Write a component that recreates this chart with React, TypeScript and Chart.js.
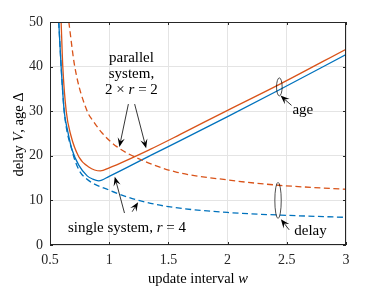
import { useEffect, useRef } from "react";
import { Chart, registerables } from "chart.js";

Chart.register(...registerables);

// ---- data ----
const xTickValues = [0.5, 1, 1.5, 2, 2.5, 3];
const yTickValues = [0, 10, 20, 30, 40, 50];

// age, single system r = 4 (blue solid)
const wAgeSingle = [0.574, 0.594, 0.62, 0.65, 0.687, 0.743, 0.814, 0.86, 0.912, 1.0, 1.35, 1.6, 2.0, 2.43, 3.0];
const ageSingle = [50, 40, 30, 25.5, 21.3, 17.9, 15.5, 14.8, 14.4, 15.4, 20.1, 23.4, 28.8, 34.7, 42.7];

// age, parallel system 2 x r = 2 (orange solid)
const wAgeParallel = [0.594, 0.608, 0.637, 0.676, 0.743, 0.827, 0.926, 1.0, 1.35, 1.6, 2.0, 2.43, 3.0];
const ageParallel = [50, 40, 30, 24.6, 19.8, 17.5, 16.6, 17.3, 21.5, 24.8, 30.2, 35.9, 43.9];

// delay, single system (blue dashed)
const wDelaySingle = [0.574, 0.594, 0.62, 0.687, 0.743, 0.8, 1.0, 1.25, 1.5, 2.0, 2.45, 3.0];
const delaySingle = [50, 40, 30, 21.1, 16.9, 15.0, 12.3, 10.0, 8.6, 7.3, 6.7, 6.2];

// delay, parallel system (orange dashed)
const wDelayParallel = [0.659, 0.709, 0.814, 0.87, 0.94, 1.067, 1.306, 1.559, 1.995, 2.431, 3.0];
const delayParallel = [50, 40, 30, 27.6, 25.1, 22.0, 18.7, 16.4, 14.6, 13.4, 12.5];

const BLUE = "#0072BD";
const ORANGE = "#D95319";
const AXIS = "#262626";
const GRID = "#e4e4e4";
const FONT = "'Liberation Serif', 'DejaVu Serif', serif";
const FS_TICK = 14;
const FS_NOTE = 15;
const FS_TITLE = 14.5;

type Seg = { t: string; i?: boolean };

function pts(xs: number[], ys: number[]) {
  return xs.map((x, k) => ({ x, y: ys[k] }));
}

function font(italic: boolean, size: number) {
  return `${italic ? "italic " : ""}${size}px ${FONT}`;
}

function drawRich(ctx: CanvasRenderingContext2D, segs: Seg[], x: number, y: number, size: number) {
  let total = 0;
  for (const s of segs) {
    ctx.font = font(!!s.i, size);
    total += ctx.measureText(s.t).width;
  }
  let cx = x - total / 2;
  ctx.textAlign = "left";
  ctx.textBaseline = "middle";
  for (const s of segs) {
    ctx.font = font(!!s.i, size);
    ctx.fillText(s.t, cx, y);
    cx += ctx.measureText(s.t).width;
  }
}

function arrow(ctx: CanvasRenderingContext2D, x0: number, y0: number, x1: number, y1: number) {
  const ang = Math.atan2(y1 - y0, x1 - x0);
  const L = 9;
  const W = 3.6;
  ctx.save();
  ctx.strokeStyle = "#000";
  ctx.fillStyle = "#000";
  ctx.lineWidth = 0.8;
  ctx.beginPath();
  ctx.moveTo(x0, y0);
  ctx.lineTo(x1 - Math.cos(ang) * 4, y1 - Math.sin(ang) * 4);
  ctx.stroke();
  ctx.translate(x1, y1);
  ctx.rotate(ang);
  ctx.beginPath();
  ctx.moveTo(0, 0);
  ctx.lineTo(-L, -W);
  ctx.lineTo(-L * 0.6, 0);
  ctx.lineTo(-L, W);
  ctx.closePath();
  ctx.fill();
  ctx.restore();
}

const decorPlugin = {
  id: "decor",
  beforeDatasetsDraw(chart: any) {
    const { ctx, chartArea: a } = chart;
    ctx.save();
    ctx.strokeStyle = AXIS;
    ctx.lineWidth = 1;
    const xs = chart.scales.x;
    const ys = chart.scales.y;
    ctx.beginPath();
    for (const v of xTickValues) {
      const px = Math.round(xs.getPixelForValue(v)) + 0.5;
      ctx.moveTo(px, a.bottom);
      ctx.lineTo(px, a.bottom - 3);
      ctx.moveTo(px, a.top);
      ctx.lineTo(px, a.top + 3);
    }
    for (const v of yTickValues) {
      const py = Math.round(ys.getPixelForValue(v)) + 0.5;
      ctx.moveTo(a.left, py);
      ctx.lineTo(a.left + 3, py);
      ctx.moveTo(a.right, py);
      ctx.lineTo(a.right - 3, py);
    }
    ctx.stroke();
    ctx.restore();
  },
  afterDatasetsDraw(chart: any) {
    const { ctx, chartArea: a } = chart;
    const xs = chart.scales.x;
    const ys = chart.scales.y;
    const X = (v: number) => xs.getPixelForValue(v);
    const Y = (v: number) => ys.getPixelForValue(v);
    ctx.save();
    // box
    ctx.strokeStyle = AXIS;
    ctx.lineWidth = 1;
    ctx.strokeRect(Math.round(a.left) + 0.5, Math.round(a.top) + 0.5, Math.round(a.right - a.left) - 1, Math.round(a.bottom - a.top) - 1);

    ctx.fillStyle = "#000";
    // parallel label
    drawRich(ctx, [{ t: "parallel" }], X(1.188), Y(41.9), FS_NOTE);
    drawRich(ctx, [{ t: "system," }], X(1.188), Y(38.3), FS_NOTE);
    drawRich(ctx, [{ t: "2 × " }, { t: "r", i: true }, { t: " = 2" }], X(1.188), Y(34.7), FS_NOTE);
    arrow(ctx, X(1.162), Y(31.6), X(1.086), Y(22.0));
    arrow(ctx, X(1.215), Y(31.6), X(1.312), Y(21.7));

    // single label
    drawRich(ctx, [{ t: "single system, " }, { t: "r", i: true }, { t: " = 4" }], X(1.15), Y(3.8), FS_NOTE);
    arrow(ctx, X(1.129), Y(7.17), X(1.047), Y(15.3));
    arrow(ctx, X(1.194), Y(7.46), X(1.244), Y(9.6));

    // age ellipse
    ctx.strokeStyle = "#000";
    ctx.lineWidth = 0.7;
    ctx.beginPath();
    ctx.ellipse(X(2.437), Y(35.45), 2.8, 9, 0, 0, Math.PI * 2);
    ctx.stroke();
    arrow(ctx, X(2.54), Y(31.3), X(2.447), Y(33.5));
    drawRich(ctx, [{ t: "age" }], X(2.635), Y(30.2), FS_NOTE);

    // delay ellipse
    ctx.beginPath();
    ctx.ellipse(X(2.426), Y(10.0), 3.2, 18, 0, 0, Math.PI * 2);
    ctx.stroke();
    arrow(ctx, X(2.52), Y(3.4), X(2.45), Y(5.8));
    drawRich(ctx, [{ t: "delay" }], X(2.70), Y(3.2), FS_NOTE);

    // axis titles
    drawRich(ctx, [{ t: "update interval " }, { t: "w", i: true }], (a.left + a.right) / 2, 279, FS_TITLE);
    ctx.save();
    ctx.translate(19, (a.top + a.bottom) / 2 + 1);
    ctx.rotate(-Math.PI / 2);
    drawRich(ctx, [{ t: "delay " }, { t: "V", i: true }, { t: ", age Δ" }], 0, 0, FS_TITLE);
    ctx.restore();
    ctx.restore();
  },
};

export default function App() {
  const ref = useRef<HTMLCanvasElement | null>(null);
  useEffect(() => {
    if (!ref.current) return;
    const line = (data: { x: number; y: number }[], color: string, dashed: boolean) => ({
      data,
      borderColor: color,
      backgroundColor: color,
      borderWidth: 1.3,
      borderDash: dashed ? [6, 3.5] : [],
      pointRadius: 0,
      cubicInterpolationMode: "monotone" as const,
      fill: false,
    });
    const chart = new Chart(ref.current, {
      type: "line",
      data: {
        datasets: [
          line(pts(wDelaySingle, delaySingle), BLUE, true),
          line(pts(wDelayParallel, delayParallel), ORANGE, true),
          line(pts(wAgeSingle, ageSingle), BLUE, false),
          line(pts(wAgeParallel, ageParallel), ORANGE, false),
        ],
      },
      options: {
        animation: false,
        responsive: true,
        maintainAspectRatio: false,
        layout: { padding: { left: 0, top: 22, right: 36, bottom: 0 } },
        plugins: { legend: { display: false }, tooltip: { enabled: false } },
        scales: {
          x: {
            type: "linear",
            min: 0.5,
            max: 3,
            afterBuildTicks: (s: any) => {
              s.ticks = xTickValues.map((v) => ({ value: v }));
            },
            afterFit: (s: any) => {
              s.height = 42;
            },
            grid: { color: GRID, drawTicks: false },
            border: { display: false },
            ticks: {
              color: AXIS,
              padding: 7,
              font: { family: FONT, size: FS_TICK },
              maxRotation: 0,
              callback: (v: any) => String(Number(v)),
            },
          },
          y: {
            type: "linear",
            min: 0,
            max: 50,
            afterBuildTicks: (s: any) => {
              s.ticks = yTickValues.map((v) => ({ value: v }));
            },
            afterFit: (s: any) => {
              s.width = 50;
            },
            grid: { color: GRID, drawTicks: false },
            border: { display: false },
            ticks: {
              color: AXIS,
              padding: 7,
              font: { family: FONT, size: FS_TICK },
              callback: (v: any) => String(Number(v)),
            },
          },
        },
      },
      plugins: [decorPlugin],
    });
    return () => chart.destroy();
  }, []);
  return (
    <div style={{ position: "fixed", left: 0, top: 0, width: 382, height: 287, background: "#fff" }}>
      <canvas ref={ref} />
    </div>
  );
}
